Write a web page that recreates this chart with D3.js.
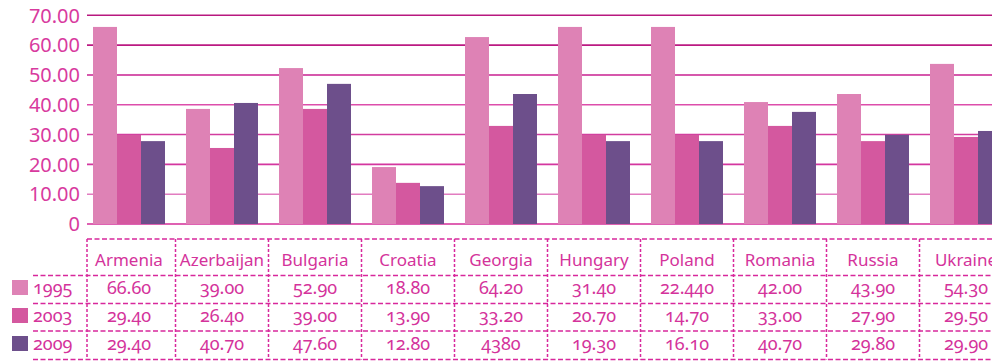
<!DOCTYPE html>
<html><head><meta charset="utf-8">
<script src="https://cdn.jsdelivr.net/npm/d3@7"></script>
<style>
html,body{margin:0;padding:0;background:#fff;}
svg{display:block;}
text{font-family:"Noto Sans",Lato,sans-serif;fill:#d4339b;}
.num{font-feature-settings:"onum" 1;}
</style></head><body>
<svg id="chart" width="992" height="361"></svg>
<script>
const categories = ["Armenia","Azerbaijan","Bulgaria","Croatia","Georgia","Hungary","Poland","Romania","Russia","Ukraine"];
const seriesNames = ["1995","2003","2009"];
// bar heights as drawn in the picture
const bars1995 = [66.1,38.6,52.3,19.1,62.7,66.1,66.1,40.9,43.6,53.7];
const bars2003 = [29.9,25.5,38.6,13.8,32.9,29.9,29.9,32.9,27.8,29.2];
const bars2009 = [27.8,40.6,47.0,12.7,43.6,27.8,27.8,37.6,29.9,31.2];
// values printed in the table
const table1995 = ["66.60","39.00","52.90","18.80","64.20","31.40","22.440","42.00","43.90","54.30"];
const table2003 = ["29.40","26.40","39.00","13.90","33.20","20.70","14.70","33.00","27.90","29.50"];
const table2009 = ["29.40","40.70","47.60","12.80","4380","19.30","16.10","40.70","29.80","29.90"];
const yTicks = [0,10,20,30,40,50,60,70];
const yTickLabels = ["0","10.00","20.00","30.00","40.00","50.00","60.00","70.00"];
const colors = ["#de82b5","#d4589f","#6d4f8b"];

const barSeries = [bars1995,bars2003,bars2009];
const tableSeries = [table1995,table2003,table2009];

const svg = d3.select("#chart");
const W = 992;
const pad = 21/93;
const x = d3.scaleBand().domain(categories).range([82.5, 82.5+930]).paddingInner(pad).paddingOuter(pad/2);
const x1 = d3.scaleBand().domain(seriesNames).range([0, x.bandwidth()]);
const y = d3.scaleLinear().domain([0,70]).range([224, 15.3]);
const plotLeft = 87;

const gridColors = {70:"#b8187f",60:"#bb1a82",50:"#c92090",40:"#dd4eab",30:"#d23c9f",20:"#d4369f",10:"#e27cc0",0:"#d42c98"};
svg.append("g").selectAll("line").data(yTicks).join("line")
  .attr("x1", plotLeft).attr("x2", W)
  .attr("y1", d=>y(d)).attr("y2", d=>y(d))
  .attr("stroke", d=>gridColors[d]).attr("stroke-width", 1.6);

svg.append("g").selectAll("text").data(yTicks).join("text")
  .attr("x", 80).attr("y", d=>y(d)).attr("dy","0.36em")
  .attr("text-anchor","end").attr("font-size",20)
  .style("fill","#d83a9e")
  .text((d,i)=>yTickLabels[i]);

const groups = svg.append("g").selectAll("g").data(categories).join("g")
  .attr("transform", d=>`translate(${x(d)},0)`);
groups.selectAll("rect").data((c,ci)=>seriesNames.map((s,si)=>({s, v:barSeries[si][ci], si})))
  .join("rect")
  .attr("x", d=>x1(d.s)).attr("width", x1.bandwidth())
  .attr("y", d=>y(d.v)).attr("height", d=>y(0)-y(d.v))
  .attr("fill", d=>colors[d.si]);

// table
const lineColor = "#d8289c";
const rowY = [239, 275.5, 303.5, 331, 359.5];
const tg = svg.append("g").attr("fill","none").attr("stroke",lineColor).attr("stroke-width",1.5);
tg.append("line").attr("x1",plotLeft).attr("x2",W).attr("y1",rowY[0]).attr("y2",rowY[0]).attr("stroke-dasharray","5,2.5");
rowY.slice(1).forEach(yy=>{
  tg.append("line").attr("x1",33).attr("x2",W).attr("y1",yy).attr("y2",yy).attr("stroke-dasharray","5,2.5");
});
const step = x.step();
const bounds = categories.map((c,i)=> i===0 ? plotLeft : x(c) - (step - x.bandwidth())/2);
tg.selectAll("line.v").data(bounds).join("line").attr("class","v")
  .attr("x1",d=>d).attr("x2",d=>d).attr("y1",rowY[0]).attr("y2",rowY[4])
  .attr("stroke-dasharray","3,2");

const cx = c => x(c) + x.bandwidth()/2;
svg.append("g").selectAll("text").data(categories).join("text")
  .attr("x", c=>cx(c)).attr("y", 266).attr("text-anchor","middle").attr("font-size",17)
  .text(c=>c);

const rowBase = [294, 322, 350];
tableSeries.forEach((vals,si)=>{
  svg.append("g").selectAll("text").data(vals).join("text").attr("class","num")
    .attr("x",(v,i)=>cx(categories[i])).attr("y",rowBase[si]).attr("text-anchor","middle").attr("font-size",18)
    .text(v=>v);
  svg.append("rect").attr("x",12).attr("y",rowBase[si]-14).attr("width",16).attr("height",15).attr("fill",colors[si]);
  svg.append("text").attr("class","num").attr("x",33).attr("y",rowBase[si]).attr("font-size",18).text(seriesNames[si]);
});
</script>
</body></html>
